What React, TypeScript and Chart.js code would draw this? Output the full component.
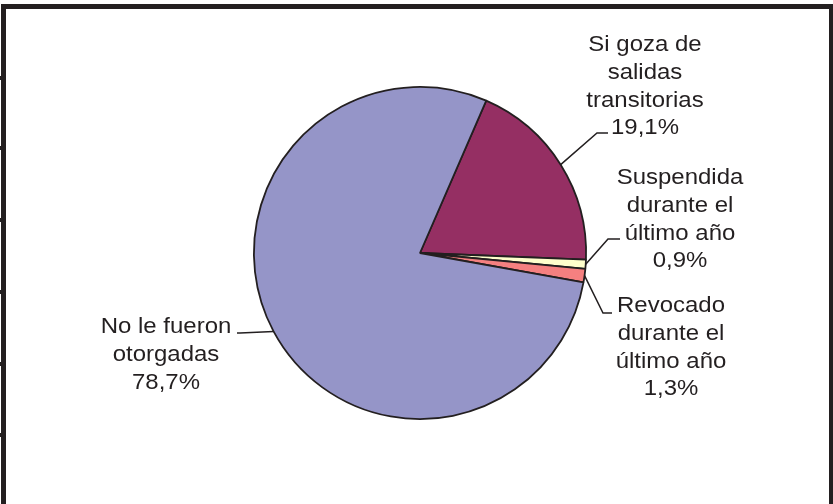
import React, { useEffect, useRef } from "react";
import { Chart, registerables } from "chart.js";

Chart.register(...registerables);

// ---- data ----
const CATEGORIES = [
  "Si goza de salidas transitorias",
  "Suspendida durante el último año",
  "Revocado durante el último año",
  "No le fueron otorgadas",
];
const LABEL_LINES = [
  ["Si goza de", "salidas", "transitorias"],
  ["Suspendida", "durante el", "último año"],
  ["Revocado", "durante el", "último año"],
  ["No le fueron", "otorgadas"],
];
const SHARES = [19.1, 0.9, 1.3, 78.7];
const COLORS = ["#952F63", "#FFFFCC", "#F58080", "#9595C8"];

// ---- layout (offsets relative to pie centre, px) ----
const LABEL_LAYOUT = [
  { text: [225, -202], elbow: [177, -120], end: [188, -120] },
  { text: [260, -69], elbow: [188, -14], end: [200, -14] },
  { text: [251, 59], elbow: [183, 60], end: [192, 60] },
  { text: [-254, 80], elbow: [-180, 80], end: [-183, 80] },
];
const LINE_H = 27.8;
const INK = "#231F20";

const fmt = (v: number) => v.toFixed(1).replace(".", ",") + "%";

const framePlugin = {
  id: "frame",
  beforeDraw(chart: any) {
    const ctx = chart.ctx;
    ctx.save();
    ctx.fillStyle = "#ffffff";
    ctx.fillRect(0, 0, chart.width, chart.height);
    ctx.fillStyle = INK;
    ctx.fillRect(1, 4, chart.width - 1, 5);
    ctx.fillRect(1, 4, 5, chart.height - 4);
    ctx.fillRect(chart.width - 4, 4, 4, chart.height - 4);
    [78, 148, 220, 292, 364, 435].forEach((ty) => ctx.fillRect(0, ty - 2, 6, 4));
    ctx.restore();
  },
};

const labelPlugin = {
  id: "pieLabels",
  afterDatasetsDraw(chart: any) {
    const ctx = chart.ctx;
    const meta = chart.getDatasetMeta(0);
    ctx.save();
    meta.data.forEach((arc: any, i: number) => {
      const p = arc.getProps(["x", "y", "startAngle", "endAngle", "outerRadius"], true);
      const mid = (p.startAngle + p.endAngle) / 2;
      const ex = p.x + Math.cos(mid) * p.outerRadius;
      const ey = p.y + Math.sin(mid) * p.outerRadius;
      const L = LABEL_LAYOUT[i];
      ctx.strokeStyle = INK;
      ctx.lineWidth = 1.5;
      ctx.beginPath();
      ctx.moveTo(ex, ey);
      ctx.lineTo(p.x + L.elbow[0], p.y + L.elbow[1]);
      ctx.lineTo(p.x + L.end[0], p.y + L.end[1]);
      ctx.stroke();

      const lines = [...LABEL_LINES[i], fmt(SHARES[i])];
      ctx.fillStyle = INK;
      ctx.font = '22px "Liberation Sans", Arial, sans-serif';
      ctx.textAlign = "center";
      ctx.textBaseline = "alphabetic";
      lines.forEach((t, k) => {
        ctx.save();
        ctx.translate(p.x + L.text[0], p.y + L.text[1] + k * LINE_H);
        ctx.scale(1.09, 1);
        ctx.fillText(t, 0, 0);
        ctx.restore();
      });
    });
    ctx.restore();
  },
};

export default function App() {
  const ref = useRef<HTMLCanvasElement | null>(null);
  useEffect(() => {
    document.body.style.margin = "0";
    if (!ref.current) return;
    const chart = new Chart(ref.current, {
      type: "pie",
      data: {
        labels: CATEGORIES,
        datasets: [
          {
            data: SHARES,
            backgroundColor: COLORS,
            borderColor: INK,
            borderWidth: 1.8,
          },
        ],
      },
      options: {
        responsive: false,
        animation: false,
        devicePixelRatio: 1,
        rotation: 23.5,
        layout: { padding: { left: 253, right: 246, top: 86, bottom: 84 } },
        plugins: {
          legend: { display: false },
          tooltip: { enabled: false },
        },
      },
      plugins: [framePlugin, labelPlugin],
    });
    return () => chart.destroy();
  }, []);
  return (
    <div style={{ position: "absolute", left: 0, top: 0, width: 833, height: 504 }}>
      <canvas ref={ref} width={833} height={504} />
    </div>
  );
}
